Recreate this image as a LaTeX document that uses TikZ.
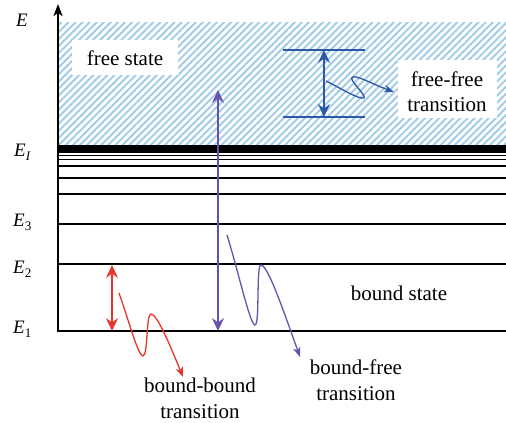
\documentclass[tikz,border=0pt]{standalone}
\usepackage{fontspec}
\setmainfont{Liberation Serif}
\usetikzlibrary{arrows.meta,patterns.meta}
\definecolor{hatchblue}{RGB}{160,203,232}
\definecolor{ffblue}{RGB}{45,88,170}
\definecolor{bfpurple}{RGB}{105,82,175}
\definecolor{bbred}{RGB}{232,52,42}
\newcommand\lvlE[1]{\textit{E}\raisebox{-4.5pt}{\fontsize{13}{13}\selectfont #1}}
\begin{document}
\begin{tikzpicture}[x=1pt,y=-1pt,
  level/.style={line width=1.8pt},
  thinlevel/.style={line width=1.3pt},
  lbl/.style={font=\fontsize{19}{19}\selectfont, anchor=base west, inner sep=0pt},
  txt/.style={font=\fontsize{21}{25.5}\selectfont, align=center, inner sep=0pt},
  whitebox/.style={fill=white, draw=none, inner sep=0pt},
  dbl/.style={line width=1.8pt, {Stealth[length=13pt,width=12pt,inset=4.5pt]}-{Stealth[length=13pt,width=12pt,inset=4.5pt]}},
  wig/.style={line width=1.3pt, -{Stealth[length=10pt,width=7.5pt,inset=3pt]}},
]
\useasboundingbox (0,0) rectangle (506,423);
% free-state hatch
\fill[pattern={Lines[angle=45,distance=5pt,line width=1.9pt]}, pattern color=hatchblue] (59,22) rectangle (506,145);
% white label boxes
\node[whitebox, minimum width=106pt, minimum height=35pt] (fsbox) at (125,57.5) {};
\node[whitebox, minimum width=99pt, minimum height=58pt] (ffbox) at (447.5,89) {};
% ionisation band and levels
\fill (58,145) rectangle (506,153);
\foreach \yy in {155.5,159.5,166}{\draw[thinlevel] (58,\yy) -- (506,\yy);}
\foreach \yy in {177.7,194,224.3,264.3,331}{\draw[level] (58,\yy) -- (506,\yy);}
% axis
\coordinate (ax0) at (58,332);
\coordinate (ax1) at (58,4);
\draw[line width=2pt, -{Stealth[length=12pt,width=9pt,inset=3pt]}] (ax0) -- (ax1);
% level labels
\node[lbl] (lE) at (16,27) {\textit{E}};
\node[lbl] (lEI) at (14,156) {\lvlE{\textit{I}}};
\node[lbl] (lE3) at (13,226) {\lvlE{3}};
\node[lbl] (lE2) at (13,273) {\lvlE{2}};
\node[lbl] (lE1) at (13,333) {\lvlE{1}};
% texts
\node[txt] (fs) at (125,57.8) {free state};
\node[txt] (ff) at (447,91.7) {free-free\\transition};
\node[txt] (bs) at (399,293.5) {bound state};
\node[txt] (bb) at (200,398.4) {bound-bound\\transition};
\node[txt] (bf) at (356,380) {bound-free\\transition};
% free-free
\coordinate (ffL1) at (283,50);  \coordinate (ffR1) at (365,50);
\coordinate (ffL2) at (283,117); \coordinate (ffR2) at (365,117);
\draw[ffblue, line width=1.8pt] (ffL1) -- (ffR1);
\draw[ffblue, line width=1.8pt] (ffL2) -- (ffR2);
\coordinate (ffa) at (324,50); \coordinate (ffb) at (324,117);
\draw[ffblue, dbl] (ffa) -- (ffb);
\coordinate (ffw0) at (326,81); \coordinate (ffw1) at (394,92);
\draw[ffblue, wig] (ffw0) .. controls (340,88) and (360,100) .. (364,98)
  .. controls (367,96) and (349,80) .. (352,77.5)
  .. controls (355,74) and (372,84) .. (ffw1);
% bound-free
\coordinate (bfa) at (218,90); \coordinate (bfb) at (218,331);
\draw[bfpurple, dbl] (bfa) -- (bfb);
\coordinate (bfw0) at (227,235); \coordinate (bfw1) at (300,357);
\draw[bfpurple, wig] (bfw0) .. controls (238,270) and (250,325) .. (255,325)
  .. controls (260,325) and (256,265) .. (261,265)
  .. controls (268,265) and (285,315) .. (bfw1);
% bound-bound
\coordinate (bba) at (112,265); \coordinate (bbb) at (112,331);
\draw[bbred, dbl] (bba) -- (bbb);
\coordinate (bbw0) at (119,293); \coordinate (bbw1) at (183,377);
\draw[bbred, wig] (bbw0) .. controls (128,318) and (138,356) .. (143,356)
  .. controls (148,356) and (146,314) .. (151,314)
  .. controls (157,314) and (170,345) .. (bbw1);
\end{tikzpicture}
\end{document}
